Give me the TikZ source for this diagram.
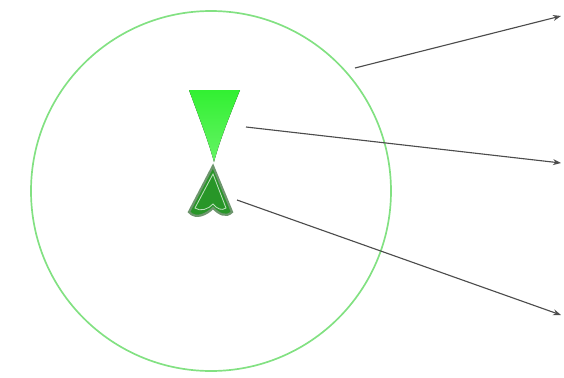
\documentclass[tikz,border=0pt]{standalone}
\usepackage{tikz}
\usetikzlibrary{positioning,arrows.meta,calc}
\usepackage{xcolor}
\definecolor{ringgreen}{RGB}{130,225,130}
\definecolor{conegreen}{RGB}{50,240,50}
\definecolor{tipgreen}{RGB}{40,150,40}
\definecolor{tipedge}{RGB}{110,150,110}

\begin{document}
\begin{tikzpicture}[x=0.25mm,y=-0.25mm,>={Stealth[length=2mm,open]},
  ray/.style={->,draw=black!70,line width=0.8pt}]
\useasboundingbox (0,0) rectangle (564,378);
\node[draw=ringgreen,line width=1.2pt,circle,minimum size=90mm,inner sep=0pt] (ring) at (211,191) {};
% cone and tip
\fill[top color=conegreen,bottom color=conegreen!75!white] (189,90) -- (240,90)
  .. controls (228,120) and (220,140) .. (214,162) .. controls (208,140) and (200,120) .. cycle;
\draw[tipedge,line width=1.6pt,fill=tipgreen] (213,166) -- (232,212) .. controls (226,218) and (219,214) .. (213,208)
  .. controls (207,214) and (196,220) .. (189,212) -- cycle;
\draw[white!70!tipgreen,line width=0.6pt] (213,174) -- (226,208) .. controls (222,211) and (217,209) .. (213,204)
  .. controls (209,209) and (200,212) .. (195,208) -- cycle;
\coordinate (s1) at (355,68);
\coordinate (s2) at (246,127);
\coordinate (s3) at (237,200);
\coordinate (e1) at (561,16);
\coordinate (e2) at (561,163);
\coordinate (e3) at (561,315);
\draw[ray] (s1) -- (e1);
\draw[ray] (s2) -- (e2);
\draw[ray] (s3) -- (e3);
\end{tikzpicture}
\end{document}
